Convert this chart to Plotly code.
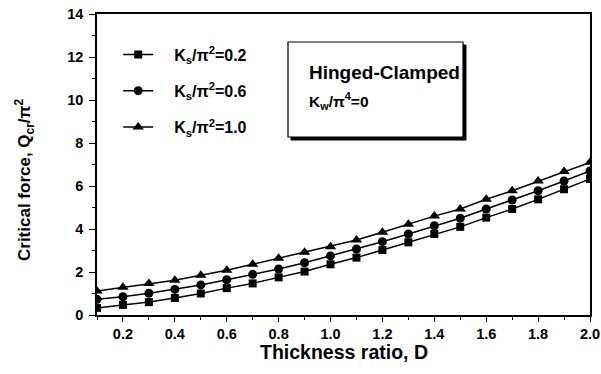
import plotly.graph_objects as go

# Data
D = [0.1, 0.2, 0.3, 0.4, 0.5, 0.6, 0.7, 0.8, 0.9, 1.0,
     1.1, 1.2, 1.3, 1.4, 1.5, 1.6, 1.7, 1.8, 1.9, 2.0]
ks_02 = [0.33, 0.47, 0.60, 0.79, 1.00, 1.25, 1.47, 1.75, 2.02, 2.36,
         2.67, 3.02, 3.38, 3.77, 4.10, 4.53, 4.93, 5.38, 5.85, 6.33]
ks_06 = [0.73, 0.85, 1.01, 1.19, 1.40, 1.64, 1.89, 2.14, 2.43, 2.75,
         3.07, 3.41, 3.77, 4.15, 4.50, 4.93, 5.35, 5.78, 6.23, 6.70]
ks_10 = [1.12, 1.29, 1.47, 1.62, 1.85, 2.08, 2.36, 2.64, 2.92, 3.18,
         3.49, 3.85, 4.22, 4.60, 4.93, 5.38, 5.78, 6.23, 6.67, 7.10]
SP = "\u2002\u2002"
series_names = [SP + "<b>K<sub>s</sub>/π<sup>2</sup>=0.2</b>",
                SP + "<b>K<sub>s</sub>/π<sup>2</sup>=0.6</b>",
                SP + "<b>K<sub>s</sub>/π<sup>2</sup>=1.0</b>"]
series_symbols = ["square", "circle", "triangle-up"]
x_title = "<b>Thickness ratio, D</b>"
y_title = "<b>Critical force, Q<sub>cr</sub>/π<sup>2</sup></b>"
box_lines = ["<b>Hinged-Clamped</b>", "<b>K<sub>w</sub>/π<sup>4</sup>=0</b>"]

FONT = "Liberation Sans, Arial, sans-serif"

fig = go.Figure()
for i, (vals, name, sym) in enumerate(zip([ks_02, ks_06, ks_10], series_names, series_symbols)):
    fig.add_trace(go.Scatter(
        x=D, y=vals, name=name, mode="lines+markers",
        legendgroup=f"g{i}",
        line=dict(color="black", width=1.5),
        marker=dict(symbol=sym, size={"square": 8, "circle": 9, "triangle-up": 10}[sym], color="black"),
    ))

# the page body margin is removed by the post script, so page pixels == figure pixels
W, H = 601, 374
PL, PR, PT, PB = 97, 590, 14, 315  # plot area in page pixels
L, R, T, B = PL, W - PR, PT, H - PB
pw, ph = PR - PL, PB - PT

def px_x(p):
    return (p - PL) / pw

def px_y(p):
    return 1 - (p - PT) / ph

bx0, bx1, by0, by1 = 288, 463, 42, 137
shapes = [
    dict(type="rect", xref="paper", yref="paper",
         x0=px_x(bx0 + 3), x1=px_x(bx1 + 3), y0=px_y(by1 + 3), y1=px_y(by0 + 3),
         fillcolor="black", line=dict(color="black", width=1), layer="above"),
    dict(type="rect", xref="paper", yref="paper",
         x0=px_x(bx0), x1=px_x(bx1), y0=px_y(by1), y1=px_y(by0),
         fillcolor="white", line=dict(color="black", width=1.2), layer="above"),
]

annotations = [
    dict(text=box_lines[0], xref="paper", yref="paper",
         x=px_x(307), y=px_y(72), xanchor="left", yanchor="middle",
         showarrow=False, font=dict(family=FONT, size=19, color="black")),
    dict(text=box_lines[1], xref="paper", yref="paper",
         x=px_x(307), y=px_y(101), xanchor="left", yanchor="middle",
         showarrow=False, font=dict(family=FONT, size=15.5, color="black")),
    dict(text=x_title, xref="paper", yref="paper",
         x=px_x(344), y=px_y(352), xanchor="center", yanchor="middle",
         showarrow=False, font=dict(family=FONT, size=19.5, color="black")),
    dict(text=y_title, xref="paper", yref="paper", textangle=-90,
         x=px_x(25), y=px_y(180), xanchor="center", yanchor="middle",
         showarrow=False, font=dict(family=FONT, size=17, color="black")),
]

fig.update_layout(
    width=W, height=H,
    margin=dict(l=L, r=R, t=T, b=B, autoexpand=False),
    paper_bgcolor="white", plot_bgcolor="white",
    font=dict(family=FONT, size=14, color="black"),
    shapes=shapes, annotations=annotations,
    legend=dict(x=0.043, y=0.922, xanchor="left", yanchor="top",
                bgcolor="rgba(0,0,0,0)", borderwidth=0,
                font=dict(family=FONT, size=16, color="black"),
                tracegroupgap=12.5, itemwidth=30),
    showlegend=True,
)

fig.update_xaxes(
    range=[0.1, 2.0], tick0=0.2, dtick=0.2, tickformat=".1f",
    showgrid=False, zeroline=False,
    showline=True, linecolor="black", linewidth=1.5, mirror=True,
    ticks="outside", ticklen=5, tickwidth=1.3, tickcolor="black",
    ticklabeloverflow="allow",
    minor=dict(dtick=0.1, tick0=0.1, ticks="outside", ticklen=3, tickcolor="black", showgrid=False),
    tickfont=dict(family=FONT, size=14.5, color="black", weight="bold"),
)
fig.update_yaxes(
    range=[0, 14], tick0=0, dtick=2,
    showgrid=False, zeroline=False,
    showline=True, linecolor="black", linewidth=1.5, mirror=True,
    ticks="outside", ticklen=6, tickwidth=1.3, tickcolor="black", ticklabelstandoff=3,
    ticklabeloverflow="allow",
    minor=dict(dtick=1, ticks="outside", ticklen=3, tickcolor="black", showgrid=False),
    tickfont=dict(family=FONT, size=14.5, color="black", weight="bold"),
)

fig.write_html(
    "out.html",
    config={"displayModeBar": False},
    post_script="document.body.style.margin='0';document.body.style.overflow='hidden';",
)
